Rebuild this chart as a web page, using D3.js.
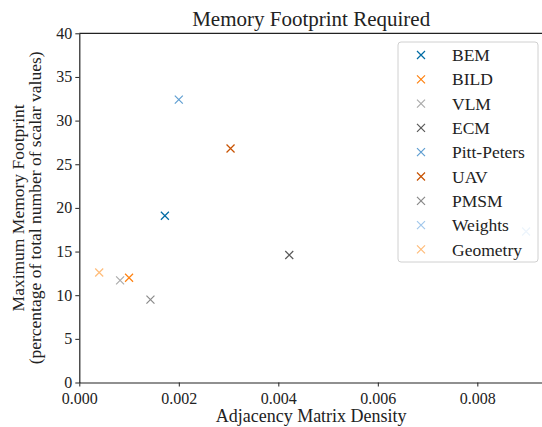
<!DOCTYPE html>
<html><head><meta charset="utf-8">
<script src="https://cdn.jsdelivr.net/npm/d3@7"></script>
<style>body{margin:0;background:#fff}svg{display:block}text{font-family:"Liberation Serif","DejaVu Serif",serif;fill:#222}</style>
</head><body><svg id="c" width="542" height="427"></svg>
<script>
const names = ["BEM","BILD","VLM","ECM","Pitt-Peters","UAV","PMSM","Weights","Geometry"];
const density = [0.00172,0.00100,0.00082,0.00422,0.00200,0.00304,0.00143,0.00898,0.00040];
const memory = [19.1,12.0,11.7,14.6,32.4,26.8,9.5,17.3,12.6];
const colors = ["#006BA4","#FF800E","#ABABAB","#595959","#5F9ED1","#C85200","#898989","#A2C8EC","#FFBC79"];
const xTicks = [0,0.002,0.004,0.006,0.008];
const yTicks = [0,5,10,15,20,25,30,35,40];

const svg = d3.select("#c");
const L=79.3, R=543, T=33.3, B=382.5;
const x = d3.scaleLinear().domain([0,0.00932]).range([L,R]);
const y = d3.scaleLinear().domain([0,40]).range([B,T]);

// points
const ms=4;
names.forEach((n,i)=>{
  const g = svg.append("g").attr("transform",`translate(${x(density[i])},${y(memory[i])})`);
  g.append("path").attr("d",`M${-ms},${-ms}L${ms},${ms}M${-ms},${ms}L${ms},${-ms}`)
   .attr("stroke",colors[i]).attr("stroke-width",1.2).attr("fill","none");
});

// axes
const xa = svg.append("g").attr("transform",`translate(0,${B})`)
  .call(d3.axisBottom(x).tickValues(xTicks).tickFormat(d3.format(".3f")).tickSize(4).tickSizeOuter(0));
const ya = svg.append("g").attr("transform",`translate(${L},0)`)
  .call(d3.axisLeft(y).tickValues(yTicks).tickSize(4).tickSizeOuter(0));
[xa,ya].forEach(a=>{
  a.selectAll("text").style("font-family",'"Liberation Serif",serif').style("font-size","16px").attr("fill","#222");
  a.selectAll("line").attr("stroke","#222").attr("stroke-width",1);
  a.select(".domain").attr("stroke","#222").attr("stroke-width",1.2);
});
xa.selectAll("text").attr("dy","0.71em").attr("y",10);
ya.selectAll("text").attr("x",-7).attr("dy","0.3em");
// top spine
svg.append("line").attr("x1",L).attr("x2",R).attr("y1",T).attr("y2",T).attr("stroke","#222").attr("stroke-width",1.2);

// title and labels
svg.append("text").attr("x",(L+R)/2).attr("y",26).attr("text-anchor","middle").style("font-size","21px").text("Memory Footprint Required");
svg.append("text").attr("x",(L+R)/2).attr("y",422).attr("text-anchor","middle").style("font-size","18px").text("Adjacency Matrix Density");
svg.append("text").attr("transform",`translate(24,${(T+B)/2}) rotate(-90)`).attr("text-anchor","middle").style("font-size","17.5px").text("Maximum Memory Footprint");
svg.append("text").attr("transform",`translate(41,${(T+B)/2}) rotate(-90)`).attr("text-anchor","middle").style("font-size","17.5px").text("(percentage of total number of scalar values)");

// legend
const lg = svg.append("g");
lg.append("rect").attr("x",398).attr("y",42).attr("width",140).attr("height",220).attr("rx",3)
  .attr("fill","#fff").attr("fill-opacity",0.8).attr("stroke","#d0d0d0").attr("stroke-width",1);
names.forEach((n,i)=>{
  const cy = 55 + i*24.3;
  lg.append("path").attr("d",`M${421-ms},${cy-ms}L${421+ms},${cy+ms}M${421-ms},${cy+ms}L${421+ms},${cy-ms}`)
    .attr("stroke",colors[i]).attr("stroke-width",1.2);
  lg.append("text").attr("x",452).attr("y",cy).attr("dy","0.35em").style("font-size","17.5px").text(n);
});
</script></body></html>
